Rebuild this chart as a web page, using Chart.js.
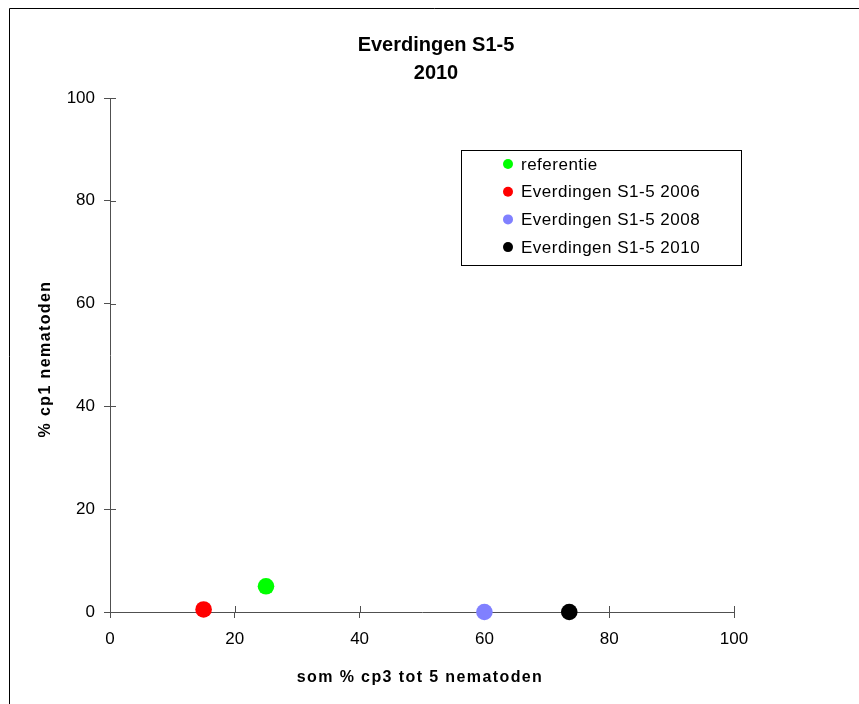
<!DOCTYPE html>
<html><head><meta charset="utf-8">
<script src="https://cdn.jsdelivr.net/npm/chart.js@4.4.1/dist/chart.umd.min.js"></script>
<style>html,body{margin:0;padding:0;background:#fff;} #wrap{width:859px;height:704px;}</style>
</head><body><div id="wrap"><canvas id="c" width="859" height="704"></canvas></div>
<script>
const chartTitle = ['Everdingen S1-5', '2010'];
const xAxisTitle = 'som % cp3 tot 5 nematoden';
const yAxisTitle = '% cp1 nematoden';
const seriesNames = ['referentie', 'Everdingen S1-5 2006', 'Everdingen S1-5 2008', 'Everdingen S1-5 2010'];
const seriesColors = ['#00FF00', '#FF0000', '#8080FF', '#000000'];
const seriesX = [25, 15, 60, 73.6];
const seriesY = [5, 0.5, 0, 0];
const xTicks = [0, 20, 40, 60, 80, 100];
const yTicks = [0, 20, 40, 60, 80, 100];

const FONT = "'Liberation Sans', Arial, sans-serif";
const AXIS = '#505050';

const datasets = seriesNames.map((name, i) => ({
  label: name,
  data: [{ x: seriesX[i], y: seriesY[i] }],
  backgroundColor: seriesColors[i],
  borderColor: seriesColors[i],
  borderWidth: 0,
  pointRadius: 8.3,
  pointHoverRadius: 8.3,
  showLine: false,
  clip: false
}));

const decor = {
  id: 'decor',
  beforeDraw(chart) {
    const ctx = chart.ctx;
    ctx.save();
    ctx.fillStyle = '#fff';
    ctx.fillRect(0, 0, chart.width, chart.height);
    ctx.strokeStyle = '#000';
    ctx.lineWidth = 1;
    ctx.beginPath();
    ctx.moveTo(9.5, 704);
    ctx.lineTo(9.5, 8.5);
    ctx.lineTo(859, 8.5);
    ctx.stroke();
    ctx.restore();
  },
  beforeDatasetsDraw(chart) {
    const ctx = chart.ctx;
    const a = chart.chartArea;
    const xs = chart.scales.x, ys = chart.scales.y;
    ctx.save();
    ctx.strokeStyle = AXIS;
    ctx.lineWidth = 1;
    ctx.beginPath();
    xTicks.forEach(v => {
      const px = Math.round(xs.getPixelForValue(v)) + 0.5;
      ctx.moveTo(px, a.bottom);
      ctx.lineTo(px, a.bottom - 6);
    });
    yTicks.forEach(v => {
      const py = Math.round(ys.getPixelForValue(v)) + 0.5;
      ctx.moveTo(a.left, py);
      ctx.lineTo(a.left + 6, py);
    });
    ctx.stroke();
    ctx.restore();
  },
  afterDraw(chart) {
    const ctx = chart.ctx;
    ctx.save();
    ctx.fillStyle = '#000';
    ctx.font = "bold 16px " + FONT;
    ctx.letterSpacing = '1.4px';
    ctx.textAlign = 'center';
    ctx.textBaseline = 'middle';
    ctx.fillText(xAxisTitle, 420, 678);
    ctx.save();
    ctx.translate(45.5, 359);
    ctx.rotate(-Math.PI / 2);
    ctx.fillText(yAxisTitle, 0, 0);
    ctx.restore();
    ctx.letterSpacing = '0.5px';
    ctx.strokeStyle = '#000';
    ctx.lineWidth = 1;
    ctx.strokeRect(461.5, 150.5, 280, 115);
    ctx.font = "17px " + FONT;
    ctx.textAlign = 'left';
    chart.data.datasets.forEach((ds, i) => {
      const y = 164 + i * 27.7;
      ctx.beginPath();
      ctx.fillStyle = ds.backgroundColor;
      ctx.arc(508, y, 5, 0, Math.PI * 2);
      ctx.fill();
      ctx.fillStyle = '#000';
      ctx.fillText(ds.label, 521, y + 1);
    });
    ctx.restore();
  }
};

new Chart(document.getElementById('c'), {
  type: 'scatter',
  data: { datasets },
  options: {
    responsive: false,
    animation: false,
    events: [],
    layout: { padding: { left: 13, right: 0, top: 31, bottom: 0 } },
    plugins: {
      legend: { display: false },
      tooltip: { enabled: false },
      title: {
        display: true,
        text: chartTitle,
        color: '#000',
        font: { family: FONT, size: 20, weight: 'bold', lineHeight: 1.4 },
        padding: { top: 0, bottom: 11 }
      }
    },
    scales: {
      x: {
        type: 'linear', position: 'bottom', min: 0, max: 100,
        afterBuildTicks: s => { s.ticks = xTicks.map(v => ({ value: v })); },
        afterFit: s => { s.height = 92; },
        border: { display: true, color: AXIS, width: 1 },
        grid: { display: true, drawOnChartArea: false, drawTicks: true, tickLength: 6, color: AXIS },
        ticks: { color: '#000', font: { family: FONT, size: 17 }, padding: 11, maxRotation: 0, autoSkip: false }
      },
      y: {
        type: 'linear', position: 'left', min: 0, max: 100,
        afterBuildTicks: s => { s.ticks = yTicks.map(v => ({ value: v })); },
        afterFit: s => { s.width = 97; },
        border: { display: true, color: AXIS, width: 1 },
        grid: { display: true, drawOnChartArea: false, drawTicks: true, tickLength: 6, color: AXIS },
        ticks: { color: '#000', font: { family: FONT, size: 17 }, padding: 9, autoSkip: false }
      },
      y2: {
        type: 'linear', position: 'right', display: true,
        afterFit: s => { s.width = 125; },
        border: { display: false },
        grid: { display: false },
        ticks: { display: false }
      }
    }
  },
  plugins: [decor]
});
</script>
</body></html>
